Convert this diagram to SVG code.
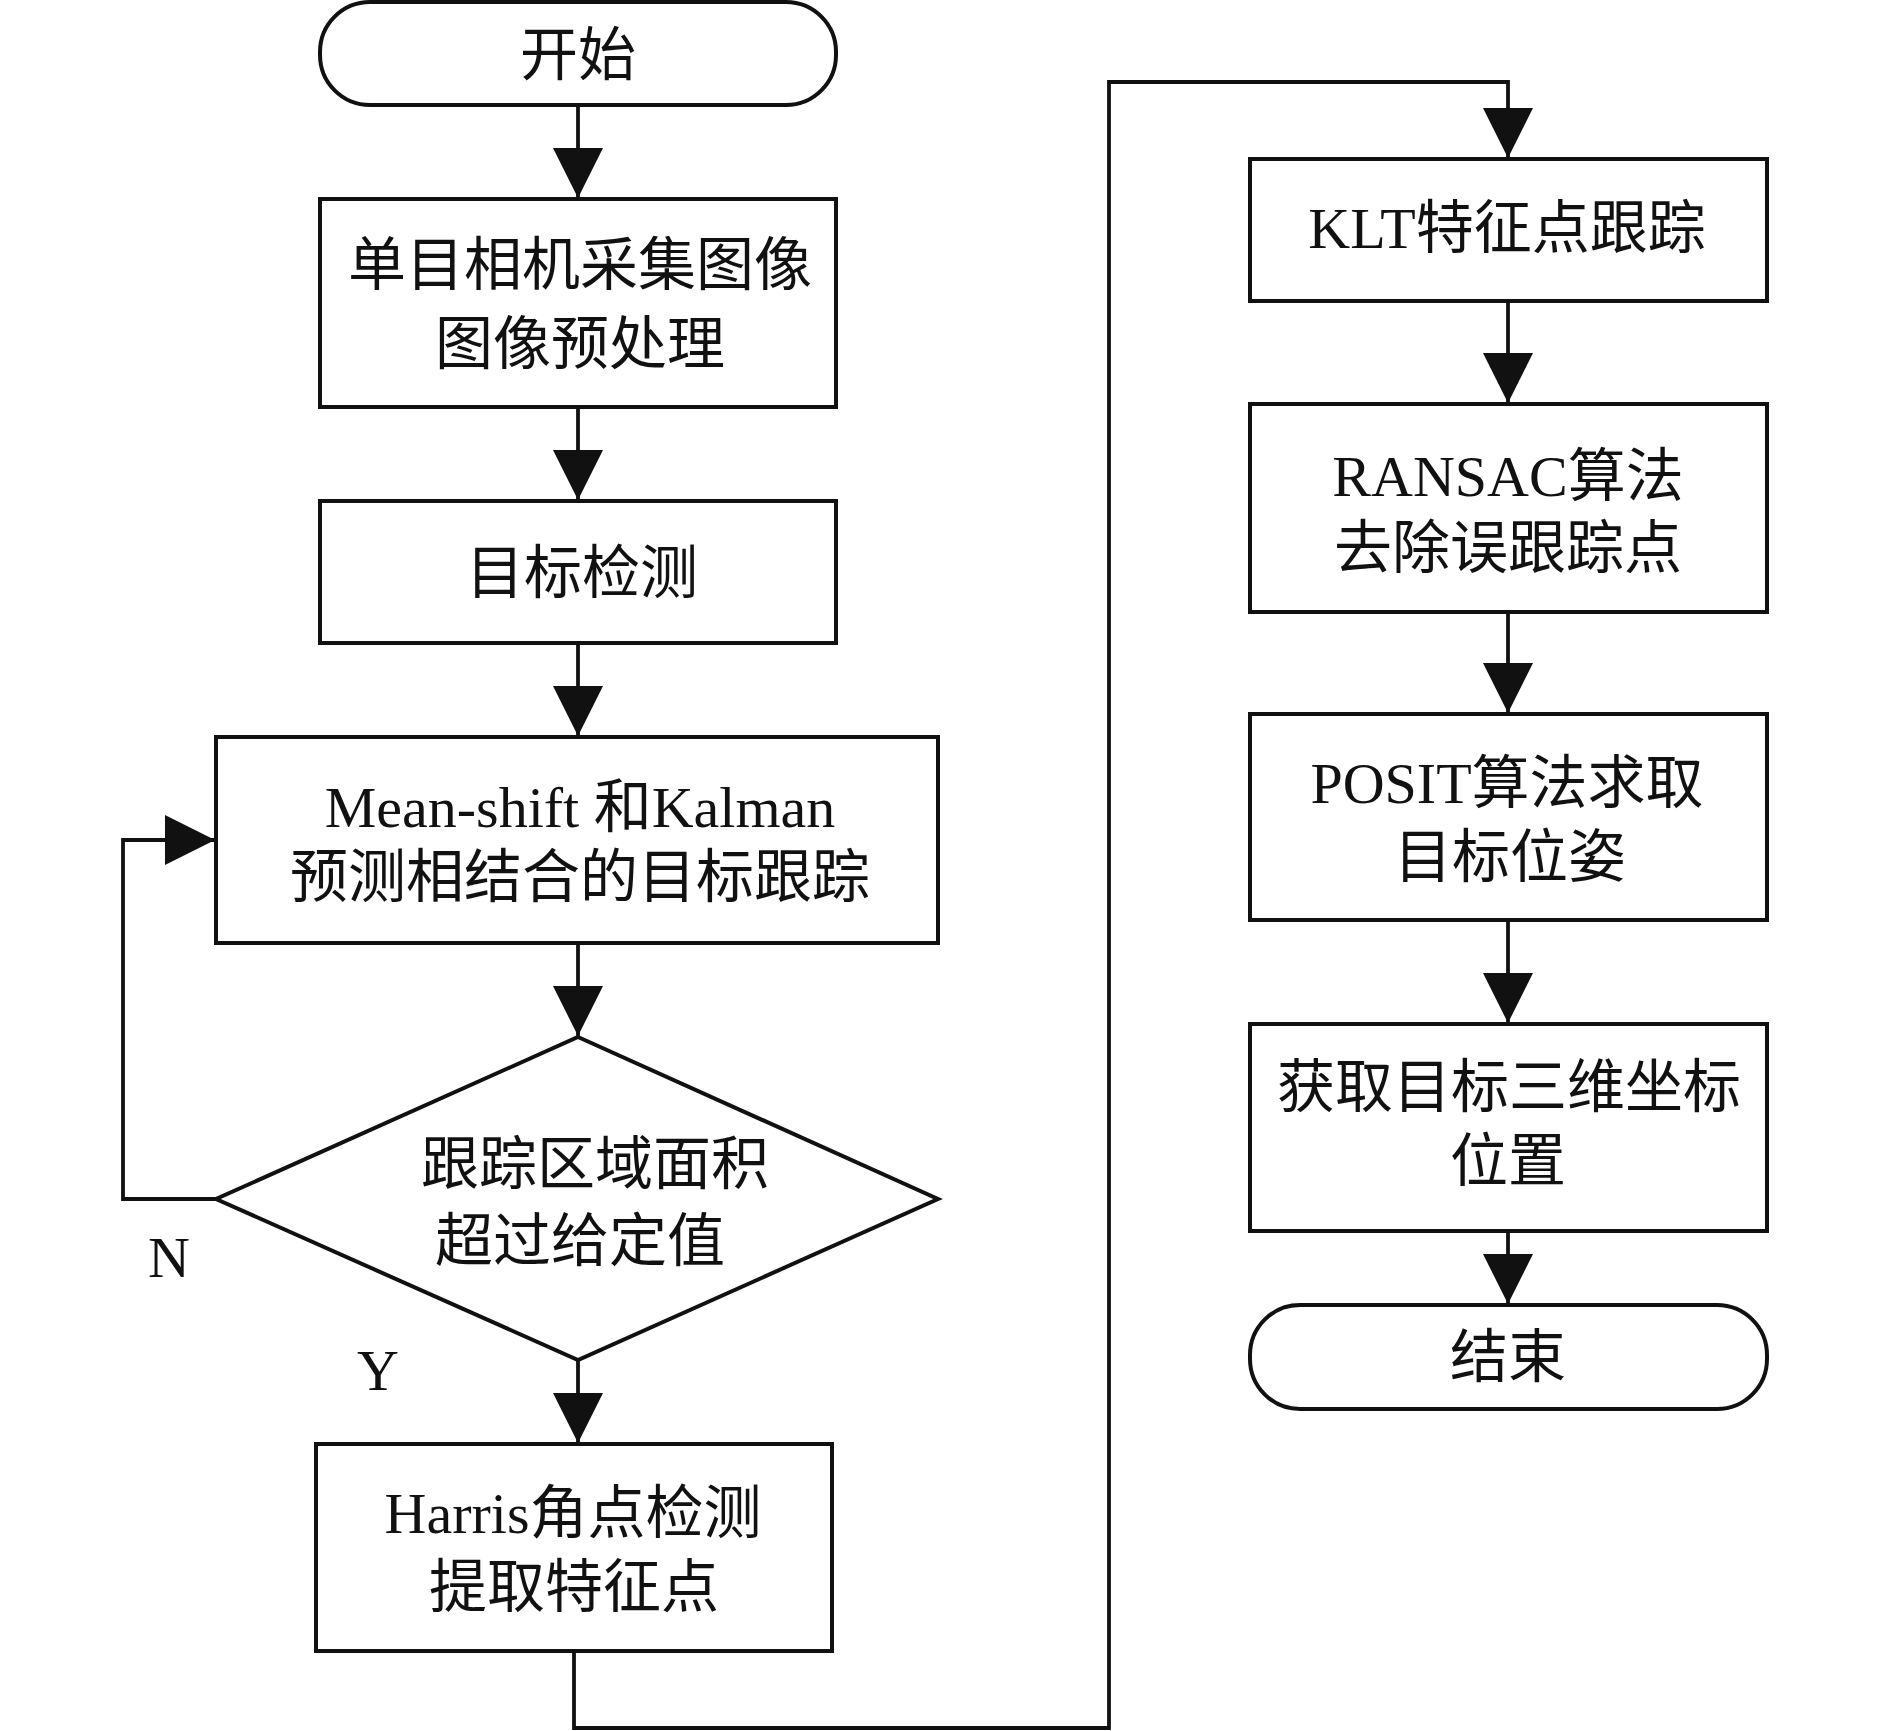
<svg xmlns="http://www.w3.org/2000/svg" width="1890" height="1731" viewBox="0 0 1890 1731">
<defs>
<style>
.shape{fill:#fff;stroke:#111;stroke-width:4}
.conn{fill:none;stroke:#111;stroke-width:3.8}
.head{fill:#111;stroke:none}
text{font-family:"Liberation Serif","Noto Sans CJK SC",serif;font-size:58px;fill:#111;text-anchor:middle}
</style>
<marker id="arr" viewBox="0 0 50 50" refX="50" refY="25" markerWidth="50" markerHeight="50" markerUnits="userSpaceOnUse" orient="auto">
<path d="M0,0 L50,25 L0,50 Z" class="head"/>
</marker>
</defs>
<rect width="1890" height="1731" fill="#fff"/>
<g id="connectors">
<path class="conn" d="M578,105 V198" marker-end="url(#arr)"/>
<path class="conn" d="M578,407 V500" marker-end="url(#arr)"/>
<path class="conn" d="M578,643 V736" marker-end="url(#arr)"/>
<path class="conn" d="M578,943 V1036" marker-end="url(#arr)"/>
<path class="conn" d="M578,1360 V1443" marker-end="url(#arr)"/>
<path class="conn" d="M216,1199 H123 V840 H215" marker-end="url(#arr)"/>
<path class="conn" d="M574,1651 V1728 H1109 V82 H1508 V158" marker-end="url(#arr)"/>
<path class="conn" d="M1508,301 V403" marker-end="url(#arr)"/>
<path class="conn" d="M1508,612 V713" marker-end="url(#arr)"/>
<path class="conn" d="M1508,920 V1023" marker-end="url(#arr)"/>
<path class="conn" d="M1508,1231 V1304" marker-end="url(#arr)"/>
</g>
<g id="start">
<rect class="shape" x="320" y="2" width="516" height="103" rx="50" ry="50"/>
<text x="578" y="75">开始</text>
</g>
<g id="capture">
<rect class="shape" x="320" y="199" width="516" height="208"/>
<text x="580" y="285">单目相机采集图像</text>
<text x="580" y="364">图像预处理</text>
</g>
<g id="detect">
<rect class="shape" x="320" y="501" width="516" height="142"/>
<text x="582" y="593">目标检测</text>
</g>
<g id="track">
<rect class="shape" x="216" y="737" width="722" height="206"/>
<text x="580" y="827">Mean-shift 和Kalman</text>
<text x="580" y="897">预测相结合的目标跟踪</text>
</g>
<g id="decision">
<polygon class="shape" points="578,1037 938,1199 578,1360 216,1199"/>
<text x="595" y="1184">跟踪区域面积</text>
<text x="580" y="1261">超过给定值</text>
</g>
<g id="label-n"><text x="169" y="1277">N</text></g>
<g id="label-y"><text x="378" y="1390">Y</text></g>
<g id="harris">
<rect class="shape" x="316" y="1444" width="516" height="207"/>
<text x="573" y="1533">Harris角点检测</text>
<text x="574" y="1607">提取特征点</text>
</g>
<g id="klt">
<rect class="shape" x="1250" y="159" width="517" height="142"/>
<text x="1507" y="248">KLT特征点跟踪</text>
</g>
<g id="ransac">
<rect class="shape" x="1250" y="404" width="517" height="208"/>
<text x="1508" y="496">RANSAC算法</text>
<text x="1508" y="568">去除误跟踪点</text>
</g>
<g id="posit">
<rect class="shape" x="1250" y="714" width="517" height="206"/>
<text x="1507" y="803">POSIT算法求取</text>
<text x="1510" y="877">目标位姿</text>
</g>
<g id="coord">
<rect class="shape" x="1250" y="1024" width="517" height="207"/>
<text x="1509" y="1107">获取目标三维坐标</text>
<text x="1508" y="1181">位置</text>
</g>
<g id="end">
<rect class="shape" x="1250" y="1305" width="517" height="104" rx="50" ry="50"/>
<text x="1508" y="1377">结束</text>
</g>
</svg>
